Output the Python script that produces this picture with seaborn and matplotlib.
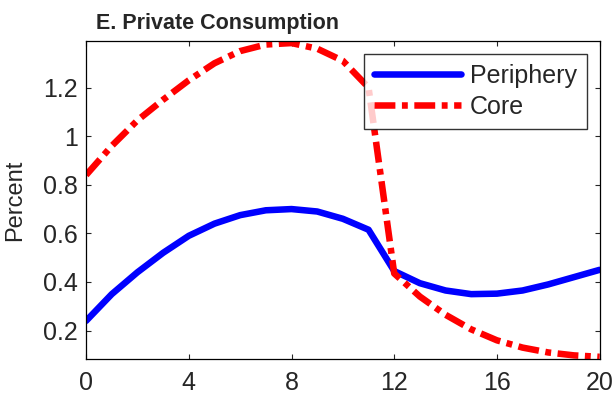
import pandas as pd
import numpy as np
import matplotlib.pyplot as plt
import seaborn as sns

quarters = list(range(21))
periphery = [0.24, 0.35, 0.44, 0.52, 0.59, 0.64, 0.675, 0.695, 0.70, 0.69, 0.66, 0.615,
             0.445, 0.395, 0.365, 0.35, 0.352, 0.365, 0.39, 0.42, 0.45]
core = [0.84, 0.96, 1.065, 1.15, 1.23, 1.30, 1.35, 1.377, 1.383, 1.36, 1.31, 1.20,
        0.435, 0.34, 0.265, 0.205, 0.16, 0.13, 0.11, 0.098, 0.092]

df = pd.DataFrame({'quarter': quarters, 'Periphery': periphery, 'Core': core})

sns.set_style('white')
plt.rcParams['font.family'] = ['Liberation Sans', 'DejaVu Sans']

fig, ax = plt.subplots(figsize=(6.15, 3.94), dpi=100)
sns.lineplot(data=df, x='quarter', y='Periphery', ax=ax, color='#0000ff', linewidth=4.7, label='Periphery')
sns.lineplot(data=df, x='quarter', y='Core', ax=ax, color='#ff0000', linewidth=4.7, label='Core')
ax.lines[1].set_dashes([3.2, 1.0, 0.9, 1.0])

ax.set_xlim(0, 20)
ax.set_ylim(0.085, 1.39)
ax.set_xticks([0, 4, 8, 12, 16, 20])
ax.set_yticks([0.2, 0.4, 0.6, 0.8, 1.0, 1.2])
ax.set_yticklabels(['0.2', '0.4', '0.6', '0.8', '1', '1.2'])
ax.set_xlabel('')
ax.set_ylabel('Percent', fontsize=17, labelpad=12)
ax.tick_params(which='major', labelsize=18, direction='in', length=3.5, top=True, right=True,
               bottom=True, left=True, width=0.8)
ax.tick_params(axis='x', pad=9)
ax.tick_params(axis='y', pad=6)
for s in ax.spines.values():
    s.set_color('black')
    s.set_linewidth(0.9)
ax.set_title('E. Private Consumption', loc='left', fontsize=15.5, fontweight='bold', pad=9, x=0.02)

leg = ax.legend(loc='upper right', fontsize=18, frameon=True, fancybox=False, handlelength=3.5,
                borderaxespad=0.5, borderpad=0.4, labelspacing=0.28, handletextpad=0.35)
leg.get_frame().set_edgecolor('black')
leg.get_frame().set_linewidth(1.0)

plt.subplots_adjust(left=0.14, right=0.975, top=0.895, bottom=0.09)
plt.savefig('out.png', dpi=100)
